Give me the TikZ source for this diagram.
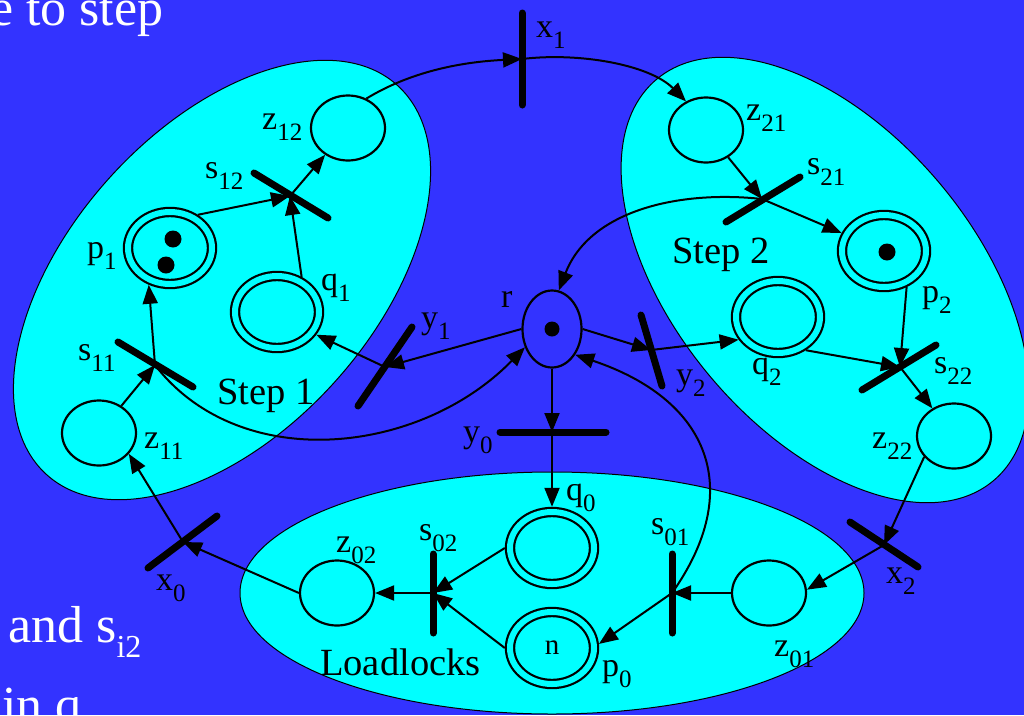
\documentclass[tikz,border=0pt]{standalone}
\usepackage{fontspec}
\setmainfont{Liberation Serif}
\usetikzlibrary{arrows.meta,shapes.geometric}
\definecolor{bgblue}{RGB}{51,51,255}
\definecolor{regcyan}{RGB}{0,255,255}
\newcommand{\lb}[2]{#1\raisebox{-11pt}{\fontsize{25}{25}\selectfont #2}}
\newcommand{\bigsub}[2]{#1\raisebox{-15pt}{\fontsize{32}{32}\selectfont #2}}
\begin{document}
\begin{tikzpicture}[x=1pt,y=-1pt,
  region/.style={draw=black, line width=1pt, fill=regcyan},
  place/.style={ellipse, draw, line width=2.2pt, fill=regcyan, minimum width=74pt, minimum height=65pt, inner sep=0pt},
  dplace/.style={ellipse, draw, line width=2.2pt, double=regcyan, double distance=6pt, fill=regcyan, minimum width=84pt, minimum height=72pt, inner sep=0pt, outer sep=5.2pt, font=\fontsize{29}{29}\selectfont},
  tbar/.style={line width=7pt, line cap=round},
  arc/.style={line width=2pt, -{Triangle[length=19pt,width=15pt]}},
  lab/.style={anchor=base west, inner sep=0pt, font=\fontsize{34}{36}\selectfont},
  biglab/.style={anchor=base west, inner sep=0pt, font=\fontsize{38.5}{40}\selectfont},
  slide/.style={anchor=base west, inner sep=0pt, text=white, font=\fontsize{52}{54}\selectfont},
  token/.style={fill=black}]
\useasboundingbox (0,0) rectangle (1024,715);
\clip (0,0) rectangle (1024,715);
\fill[bgblue] (0,0) rectangle (1024,715);

% slide text behind
\node[slide] (t1) at (-10,25) {e to step};
\node[slide] (t2) at (8,642) {and \bigsub{s}{i2}};
\node[slide] (t3) at (2,722) {in \bigsub{q}{i}};

% regions
\draw[region, rotate around={48:(222,280)}] (222,280) ellipse [x radius=262, y radius=152];
\draw[region, rotate around={-50:(825,280)}] (825,280) ellipse [x radius=262, y radius=150];
\draw[region] (552,593) ellipse [x radius=312, y radius=121];

% places
\node[place] (z12) at (348,128) {};
\node[dplace] (p1) at (170,248) {};
\node[dplace] (q1) at (277,312) {};
\node[place] (z11) at (99,433) {};
\node[ellipse, draw, line width=2.2pt, fill=bgblue, minimum width=59pt, minimum height=77pt, inner sep=0pt] (r) at (552,329) {};
\node[place] (z21) at (706,130) {};
\node[dplace] (p2) at (884,251) {};
\node[dplace] (q2) at (778,317) {};
\node[place] (z22) at (954,436) {};
\node[dplace] (q0) at (552,548) {};
\node[dplace] (p0) at (552,648) {n};
\node[place] (z02) at (337,593) {};
\node[place] (z01) at (769,593) {};

% tokens
\fill[token] (173,239) circle (8.5);
\fill[token] (166,265) circle (8.5);
\fill[token] (552,329) circle (7.5);
\fill[token] (887,252) circle (8.5);

% transitions
\coordinate (x1) at (522,59);
\coordinate (s12) at (290,196);
\coordinate (s11) at (155,365);
\coordinate (y1) at (385,367);
\coordinate (y2) at (651,350);
\coordinate (y0) at (552,432);
\coordinate (s21) at (762,199);
\coordinate (s22) at (900,367);
\coordinate (x2) at (884,545);
\coordinate (s01) at (672,593);
\coordinate (s02) at (433,593);
\coordinate (x0) at (183,542);

\draw[tbar] (x1) ++(0,-46) -- ++(0,92);
\draw[tbar] (s12) ++(-36,-23) -- ++(74,45);
\draw[tbar] (s11) ++(-37,-23) -- ++(75,45);
\draw[tbar] (y1) ++(27,-40) -- ++(-54,79);
\draw[tbar] (y2) ++(-10,-35) -- ++(21,71);
\draw[tbar] (y0) ++(-52,0) -- ++(106,0);
\draw[tbar] (s21) ++(-36,23) -- ++(74,-45);
\draw[tbar] (s22) ++(-38,23) -- ++(74,-45);
\draw[tbar] (x2) ++(-34,-23) -- ++(68,45);
\draw[tbar] (s01) ++(0,-39) -- ++(0,79);
\draw[tbar] (s02) ++(0,-39) -- ++(0,79);
\draw[tbar] (x0) ++(-35,26) -- ++(69,-52);

% arcs
\draw[arc] (z12.58) .. controls (410,72) and (460,62) .. (x1);
\draw[arc] (x1) .. controls (580,52) and (650,65) .. (z21.125);
\draw[arc] (z21) -- (s21);
\draw[arc] (s21) -- (p2);
\draw[arc] (s21) .. controls (680,190) and (590,210) .. (r.80);
\draw[arc] (p2.-58) -- (s22);
\draw[arc] (q2.-50) -- (s22);
\draw[arc] (s22) -- (z22);
\draw[arc] (z22.215) -- (x2);
\draw[arc] (x2) -- (z01.5);
\draw[arc] (z01) -- (s01);
\draw[arc] (s01) -- (p0.5);
\draw[arc] (p0.west) -- (s02);
\draw[arc] (q0.west) -- (s02);
\draw[arc] (s02) -- (z02);
\draw[arc] (z02.west) -- (x0);
\draw[arc] (x0) -- (z11.-35);
\draw[arc] (z11) -- (s11);
\draw[arc] (s11) -- (p1.-120);
\draw[arc] (s11) .. controls (240,475) and (420,455) .. (r.214);
\draw[arc] (p1.50) -- (s12);
\draw[arc] (q1.55) -- (s12);
\draw[arc] (s12) -- (z12);
\draw[arc] (r.west) -- (y1);
\draw[arc] (y1) -- (q1.-30);
\draw[arc] (r.east) -- (y2);
\draw[arc] (y2) -- (q2.210);
\draw[arc] (r) -- (y0);
\draw[arc] (y0) -- (q0);
\draw[arc] (s01) .. controls (745,490) and (710,400) .. (r.-48);

% labels
\node[lab] (lx1) at (536,37) {\lb{x}{1}};
\node[lab] (lz12) at (262,129) {\lb{z}{12}};
\node[lab] (ls12) at (205,178) {\lb{s}{12}};
\node[lab] (lp1) at (87,258) {\lb{p}{1}};
\node[lab] (lq1) at (321,290) {\lb{q}{1}};
\node[lab] (ls11) at (78,360) {\lb{s}{11}};
\node[biglab] (step1) at (217,404) {Step 1};
\node[lab] (lz11) at (144,448) {\lb{z}{11}};
\node[lab] (lr) at (501,307) {r};
\node[lab] (ly1) at (421,328) {\lb{y}{1}};
\node[lab] (ly2) at (676,385) {\lb{y}{2}};
\node[lab] (ly0) at (463,442) {\lb{y}{0}};
\node[lab] (lq0) at (566,500) {\lb{q}{0}};
\node[lab] (ls02) at (419,540) {\lb{s}{02}};
\node[lab] (ls01) at (651,534) {\lb{s}{01}};
\node[lab] (lp0) at (602,676) {\lb{p}{0}};
\node[biglab] (ll) at (320,675) {Loadlocks};
\node[lab] (lz02) at (336,552) {\lb{z}{02}};
\node[lab] (lx0) at (156,590) {\lb{x}{0}};
\node[lab] (lz01) at (774,656) {\lb{z}{01}};
\node[lab] (lx2) at (886,583) {\lb{x}{2}};
\node[lab] (lz22) at (872,448) {\lb{z}{22}};
\node[lab] (ls22) at (934,373) {\lb{s}{22}};
\node[lab] (lq2) at (752,374) {\lb{q}{2}};
\node[lab] (lp2) at (922,302) {\lb{p}{2}};
\node[biglab] (step2) at (672,263) {Step 2};
\node[lab] (ls21) at (807,174) {\lb{s}{21}};
\node[lab] (lz21) at (746,120) {\lb{z}{21}};
\end{tikzpicture}
\end{document}
